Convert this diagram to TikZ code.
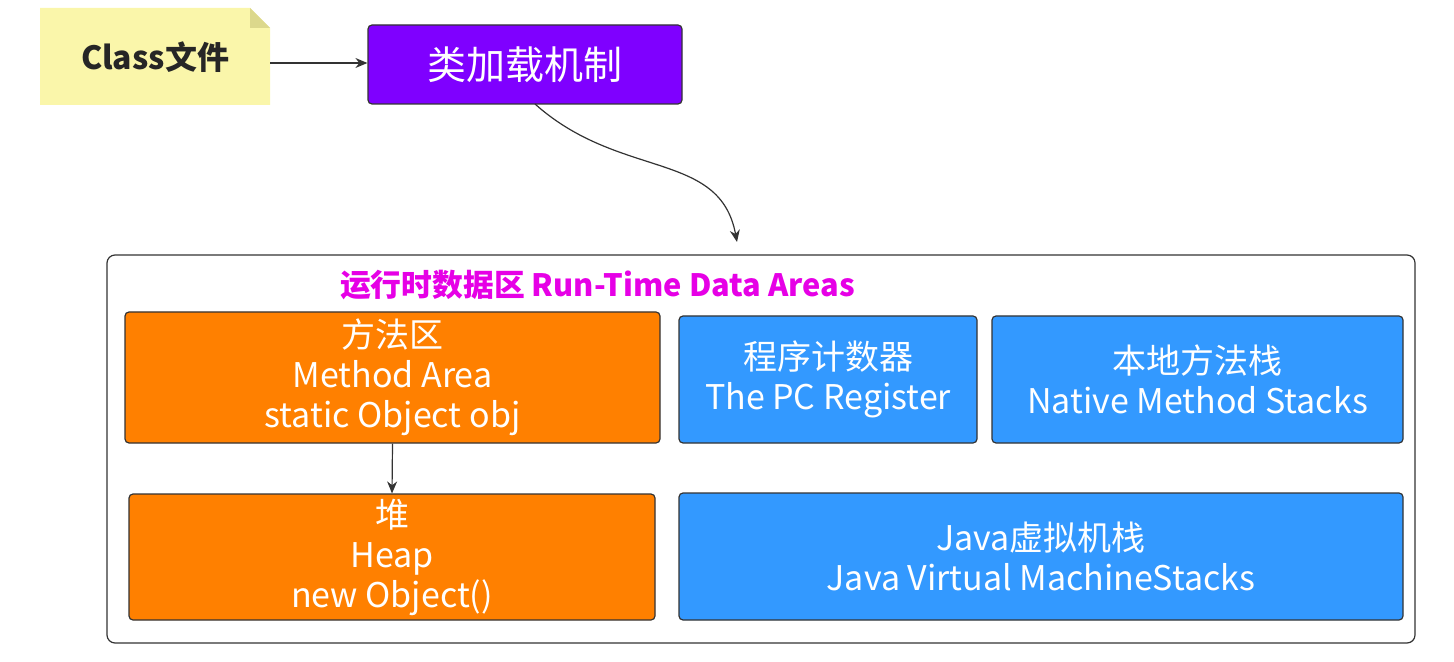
\documentclass[tikz,border=0pt]{standalone}
\usepackage{fontspec}
\setmainfont{Noto Sans CJK SC}
\usetikzlibrary{arrows.meta}
\definecolor{noteY}{RGB}{250,246,170}
\definecolor{noteD}{RGB}{220,216,140}
\definecolor{purp}{RGB}{127,0,255}
\definecolor{orng}{RGB}{255,128,0}
\definecolor{blu}{RGB}{51,153,255}
\definecolor{mag}{RGB}{230,0,230}
\begin{document}
\begin{tikzpicture}[x=0.5pt,y=-0.5pt,
  box/.style={draw=black!80,line width=0.6pt,rounded corners=2pt,text=white,align=center,font=\fontsize{17}{20}\selectfont,inner sep=0pt},
  org/.style={box,fill=orng},
  blb/.style={box,fill=blu},
  arr/.style={-{Stealth[length=6pt,width=5pt]},line width=0.6pt,draw=black!80}]
\useasboundingbox (0,0) rectangle (1454,662);
% note
\fill[noteY] (40,8) -- (250,8) -- (270,28) -- (270,105) -- (40,105) -- cycle;
\fill[noteD] (250,8) -- (270,28) -- (250,28) -- cycle;
\node[font=\bfseries\fontsize{16}{19}\selectfont,text=black!85] (cls) at (155,57) {Class文件};
\coordinate (clsE) at (270,63);
\node[box,fill=purp,minimum width=157pt,minimum height=39.5pt,font=\fontsize{19.5}{23}\selectfont] (load) at (525,64.5) {类加载机制};
\draw[arr] (clsE) -- (load.west|-clsE);
\draw[draw=black!80,line width=0.6pt,rounded corners=4pt] (107,255) rectangle (1415,643);
\coordinate (tgt) at (737,242);
\draw[arr] (535,104) .. controls (620,180) and (720,150) .. (tgt);
\node[font=\bfseries\fontsize{15.4}{18}\selectfont,text=mag,anchor=west] (title) at (333,285) {运行时数据区 Run-Time Data Areas};
\node[org,minimum width=267.5pt,minimum height=65.5pt] (ma) at (392.5,377.5) {方法区\\Method Area\\static Object obj};
\node[org,minimum width=263pt,minimum height=63pt] (heap) at (392,557) {堆\\Heap\\new Object()};
\node[blb,minimum width=149pt,minimum height=63.5pt] (pc) at (828,379.5) {程序计数器\\The PC Register};
\node[blb,minimum width=205.5pt,minimum height=63.5pt] (nm) at (1197.5,379.5) {本地方法栈\\Native Method Stacks};
\node[blb,minimum width=362pt,minimum height=63.5pt] (jvm) at (1041,556.5) {Java虚拟机栈\\Java Virtual MachineStacks};
\draw[arr] (ma.south) -- (heap.north);
\end{tikzpicture}
\end{document}
